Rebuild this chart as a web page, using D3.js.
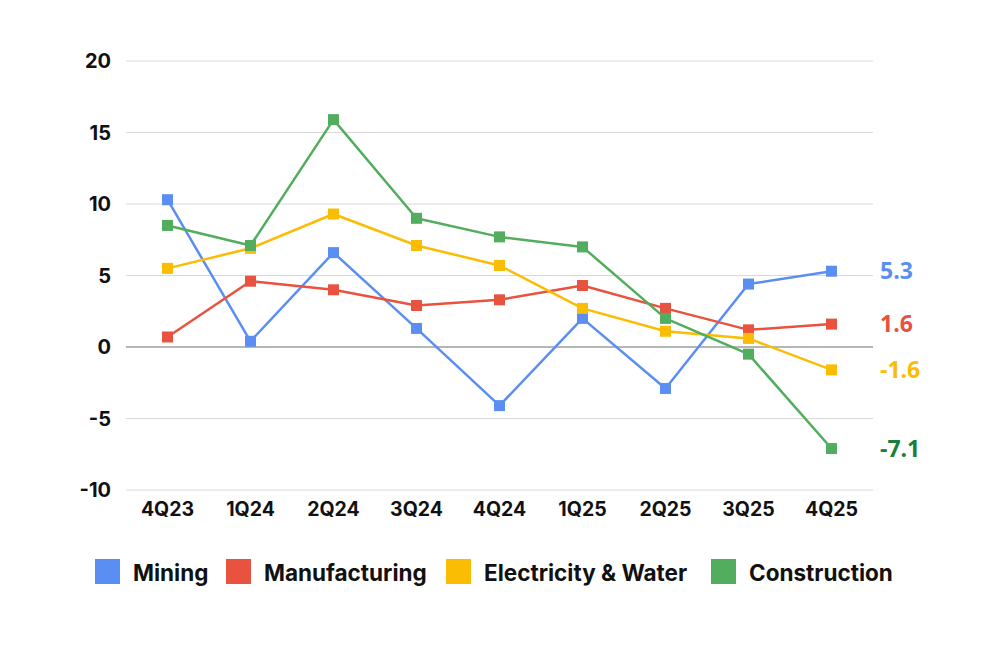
<!DOCTYPE html>
<html>
<head>
<meta charset="utf-8">
<script src="https://cdn.jsdelivr.net/npm/d3@7"></script>
<style>
  html, body { margin: 0; padding: 0; background: #fff; }
  svg { display: block; }
</style>
</head>
<body>
<svg id="chart" width="997" height="664"></svg>
<script>
const categories = ["4Q23","1Q24","2Q24","3Q24","4Q24","1Q25","2Q25","3Q25","4Q25"];
const mining        = [10.3, 0.4, 6.6, 1.3, -4.1, 2.0, -2.9, 4.4, 5.3];
const manufacturing = [0.7, 4.6, 4.0, 2.9, 3.3, 4.3, 2.7, 1.2, 1.6];
const electricity   = [5.5, 6.9, 9.3, 7.1, 5.7, 2.7, 1.1, 0.6, -1.6];
const construction  = [8.5, 7.1, 15.9, 9.0, 7.7, 7.0, 2.0, -0.5, -7.1];
const yTicks = [-10, -5, 0, 5, 10, 15, 20];

const seriesNames = ["Mining", "Manufacturing", "Electricity & Water", "Construction"];
const seriesValues = [mining, manufacturing, electricity, construction];
const seriesColors = ["#5b8ef2", "#ea5240", "#fbbc04", "#52ad5e"];
const labelColors  = ["#5b8ef2", "#e8503f", "#fbbc04", "#188038"];

const svg = d3.select("#chart");
const x = d3.scaleBand().domain(categories).range([126, 873]);
const y = d3.scaleLinear().domain([-10, 20]).range([490, 61]);

// gridlines
svg.append("g").selectAll("line").data(yTicks).join("line")
  .attr("x1", 126).attr("x2", 873)
  .attr("y1", d => y(d)).attr("y2", d => y(d))
  .attr("stroke", d => d === 0 ? "#9e9e9e" : "#d9d9d9")
  .attr("stroke-width", d => d === 0 ? 1.6 : 1.2);

// y tick labels
svg.append("g").selectAll("text").data(yTicks).join("text")
  .attr("x", 111).attr("y", d => y(d))
  .attr("dy", "0.36em")
  .attr("text-anchor", "end")
  .attr("font-family", "Inter, 'Liberation Sans', Arial, sans-serif")
  .attr("font-weight", 700).attr("font-size", 20)
  .attr("fill", "#111")
  .text(d => String(d));

// x labels
svg.append("g").selectAll("text").data(categories).join("text")
  .attr("x", d => x(d) + x.bandwidth() / 2).attr("y", 516)
  .attr("text-anchor", "middle")
  .attr("font-family", "Inter, 'Liberation Sans', Arial, sans-serif")
  .attr("font-weight", 700).attr("font-size", 19.5)
  .attr("fill", "#111")
  .text(d => d);

const line = d3.line()
  .x((d, i) => x(categories[i]) + x.bandwidth() / 2)
  .y(d => y(d));

seriesValues.forEach((vals, si) => {
  const g = svg.append("g");
  g.append("path").datum(vals)
    .attr("d", line)
    .attr("fill", "none")
    .attr("stroke", seriesColors[si])
    .attr("stroke-width", 2.5)
    .attr("stroke-linejoin", "round");
  g.selectAll("rect").data(vals).join("rect")
    .attr("x", (d, i) => x(categories[i]) + x.bandwidth() / 2 - 5.5)
    .attr("y", d => y(d) - 5.5)
    .attr("width", 11).attr("height", 11)
    .attr("fill", seriesColors[si]);
});

// end labels
seriesValues.forEach((vals, si) => {
  const v = vals[vals.length - 1];
  svg.append("text")
    .attr("x", 880).attr("y", y(v))
    .attr("dy", "0.36em")
    .attr("font-family", "'Open Sans', 'Noto Sans', sans-serif")
    .attr("font-weight", 700).attr("font-size", 23)
    .attr("fill", labelColors[si])
    .text(v.toFixed(1));
});

// legend
const legendX = [95, 226, 446, 711];
const lg = svg.append("g");
seriesNames.forEach((name, i) => {
  lg.append("rect")
    .attr("x", legendX[i]).attr("y", 559)
    .attr("width", 25).attr("height", 25)
    .attr("fill", seriesColors[i]);
  lg.append("text")
    .attr("x", legendX[i] + 38).attr("y", 580.5)
    .attr("font-family", "Inter, 'Liberation Sans', Arial, sans-serif")
    .attr("font-weight", 700).attr("font-size", 22.5)
    .attr("fill", "#111")
    .text(name);
});
</script>
</body>
</html>
